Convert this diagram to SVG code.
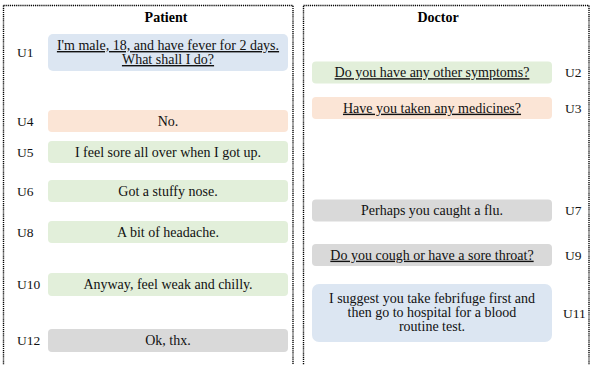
<svg xmlns="http://www.w3.org/2000/svg" width="593" height="365" viewBox="0 0 593 365">
<style>
.panel{fill:none;stroke:#000;stroke-width:1.4;stroke-dasharray:1.2 0.9}
.hdr{font-family:"Liberation Serif","Times New Roman",serif;font-size:14px;font-weight:bold;fill:#000;text-anchor:middle}
.t{font-family:"Liberation Serif","Times New Roman",serif;font-size:14px;fill:#111;text-anchor:middle}
.u{text-decoration:underline}
.lbl{font-family:"Liberation Serif","Times New Roman",serif;font-size:13.5px;fill:#111}
.blue{fill:#dce6f2}
.green{fill:#e2efda}
.orange{fill:#fbe5d6}
.gray{fill:#d9d9d9}
</style>
<g id="panels">
<rect class="panel" x="3.5" y="5.5" width="289.5" height="380"/>
<rect class="panel" x="303.5" y="5.5" width="285.5" height="380"/>
<text class="hdr" x="166" y="21.5">Patient</text>
<text class="hdr" x="438" y="21.5">Doctor</text>
</g>
<g id="connectors"/>
<g id="U1">
<rect class="blue" x="48" y="34" width="240" height="37" rx="5"/>
<text class="t u" x="168" y="50">I'm male, 18, and have fever for 2 days.</text>
<text class="t u" x="168" y="64">What shall I do?</text>
<text class="lbl" x="17" y="57">U1</text>
</g>
<g id="U2">
<rect class="green" x="312" y="61.5" width="240" height="22" rx="4"/>
<text class="t u" x="432" y="77.2">Do you have any other symptoms?</text>
<text class="lbl" x="565" y="77.2">U2</text>
</g>
<g id="U3">
<rect class="orange" x="312" y="97" width="240" height="22" rx="4"/>
<text class="t u" x="432" y="112.7">Have you taken any medicines?</text>
<text class="lbl" x="565" y="112.7">U3</text>
</g>
<g id="U4">
<rect class="orange" x="48" y="110" width="240" height="22" rx="4"/>
<text class="t" x="168" y="125.7">No.</text>
<text class="lbl" x="17" y="125.7">U4</text>
</g>
<g id="U5">
<rect class="green" x="48" y="141" width="240" height="22" rx="4"/>
<text class="t" x="168" y="156.7">I feel sore all over when I got up.</text>
<text class="lbl" x="17" y="156.7">U5</text>
</g>
<g id="U6">
<rect class="green" x="48" y="180" width="240" height="22" rx="4"/>
<text class="t" x="168" y="195.7">Got a stuffy nose.</text>
<text class="lbl" x="17" y="195.7">U6</text>
</g>
<g id="U7">
<rect class="gray" x="312" y="199.5" width="240" height="22" rx="4"/>
<text class="t" x="432" y="215.2">Perhaps you caught a flu.</text>
<text class="lbl" x="565" y="215.2">U7</text>
</g>
<g id="U8">
<rect class="green" x="48" y="221" width="240" height="22" rx="4"/>
<text class="t" x="168" y="236.7">A bit of headache.</text>
<text class="lbl" x="17" y="236.7">U8</text>
</g>
<g id="U9">
<rect class="gray" x="312" y="244" width="240" height="22" rx="4"/>
<text class="t u" x="432" y="259.7">Do you cough or have a sore throat?</text>
<text class="lbl" x="565" y="259.7">U9</text>
</g>
<g id="U10">
<rect class="green" x="48" y="273" width="240" height="23" rx="4"/>
<text class="t" x="168" y="289.2">Anyway, feel weak and chilly.</text>
<text class="lbl" x="17" y="289.2">U10</text>
</g>
<g id="U11">
<rect class="blue" x="312" y="284" width="240" height="58" rx="7"/>
<text class="t" x="432" y="303">I suggest you take febrifuge first and</text>
<text class="t" x="432" y="317">then go to hospital for a blood</text>
<text class="t" x="432" y="331">routine test.</text>
<text class="lbl" x="563" y="317.7">U11</text>
</g>
<g id="U12">
<rect class="gray" x="48" y="329" width="240" height="23" rx="4"/>
<text class="t" x="168" y="345.2">Ok, thx.</text>
<text class="lbl" x="17" y="345.2">U12</text>
</g>
</svg>
